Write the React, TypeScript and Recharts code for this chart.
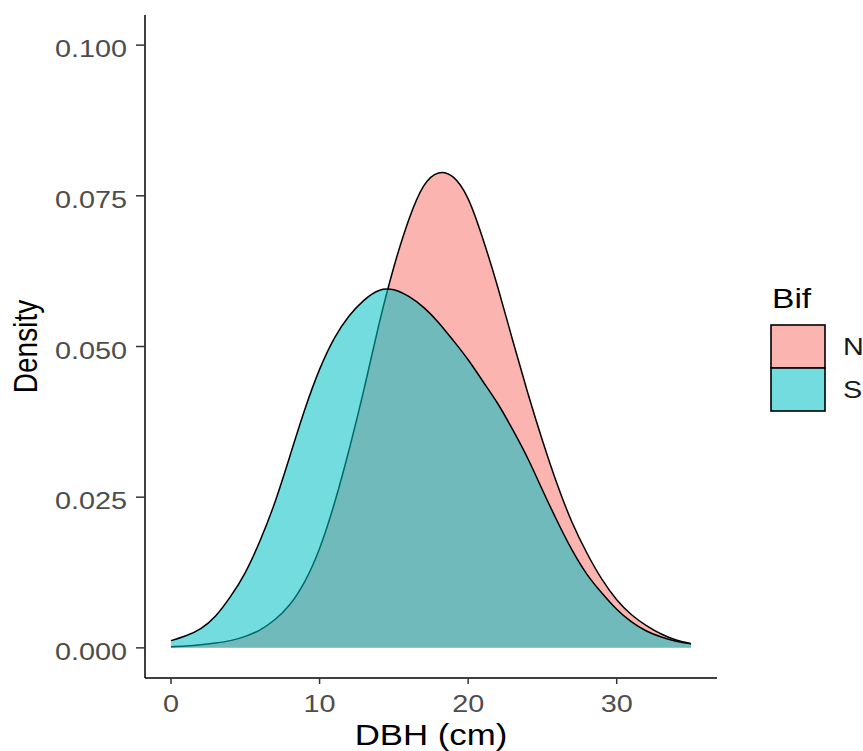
import React from "react";
import { AreaChart, Area, XAxis, YAxis, Legend } from "recharts";

// DBH (cm) grid and estimated kernel density per Bif group
const dbh = [0, 1, 2, 3, 4, 5, 6, 7, 8, 9, 10, 11, 12, 13, 14, 15, 16, 17, 18, 19, 20, 21, 22, 23, 24, 25, 26, 27, 28, 29, 30, 31, 32, 33, 34, 35];
const densityN = [0.0002, 0.0003, 0.0005, 0.0008, 0.0012, 0.0019, 0.003, 0.0047, 0.0072, 0.011, 0.0165, 0.024, 0.033, 0.043, 0.0537, 0.0632, 0.071, 0.0766, 0.0788, 0.0781, 0.0745, 0.0678, 0.0598, 0.051, 0.0424, 0.0344, 0.0271, 0.0208, 0.0157, 0.0114, 0.008, 0.0055, 0.0037, 0.0023, 0.0013, 0.0007];
const densityS = [0.0012, 0.002, 0.0032, 0.0053, 0.0085, 0.0125, 0.0178, 0.0242, 0.0318, 0.0395, 0.0462, 0.0514, 0.0551, 0.0577, 0.0593, 0.0594, 0.0583, 0.0565, 0.054, 0.051, 0.0478, 0.0442, 0.0405, 0.0362, 0.0315, 0.0262, 0.021, 0.0162, 0.0122, 0.0091, 0.0064, 0.0043, 0.0028, 0.0018, 0.0011, 0.0007];

const groups = ["N", "S"];
const groupColors = ["#F8766D", "#00BFC4"];
const xTicks = [0, 10, 20, 30];
const yTicks = [0, 0.025, 0.05, 0.075, 0.1];

const data = dbh.map((x, i) => ({ x, N: densityN[i], S: densityS[i] }));

const FONT = "'Liberation Sans', Arial, sans-serif";
const STRETCH = 1.2;
const ALPHA = 0.55;

const mix = (hex: string, a: number) => {
  const n = parseInt(hex.slice(1), 16);
  const c = [(n >> 16) & 255, (n >> 8) & 255, n & 255].map((v) => Math.round(v * a + 255 * (1 - a)));
  return `rgb(${c.join(",")})`;
};

const YTick = (props: any) => {
  const { x, y, payload } = props;
  return (
    <text transform={`translate(${x},${y}) scale(${STRETCH},1)`} dy={12} textAnchor="end" fontSize={24} fontFamily={FONT} fill="#4D4D4D">
      {Number(payload.value).toFixed(3)}
    </text>
  );
};

const XTick = (props: any) => {
  const { x, y, payload } = props;
  return (
    <text transform={`translate(${x},${y}) scale(${STRETCH},1)`} dy={24} textAnchor="middle" fontSize={24} fontFamily={FONT} fill="#4D4D4D">
      {payload.value}
    </text>
  );
};

const XTitle = (props: any) => {
  const { viewBox } = props;
  const cx = viewBox.x + viewBox.width / 2;
  return (
    <text transform={`translate(${cx},${viewBox.y + 67}) scale(${STRETCH},1)`} textAnchor="middle" fontSize={29} fontFamily={FONT} fill="#000">
      DBH (cm)
    </text>
  );
};

const YTitle = (props: any) => {
  const { viewBox } = props;
  const cy = viewBox.y + viewBox.height / 2;
  return (
    <text transform={`translate(${viewBox.x + 37},${cy}) scale(${STRETCH},1) rotate(-90)`} textAnchor="middle" fontSize={28} fontFamily={FONT} fill="#000">
      Density
    </text>
  );
};

const LegendBox = () => (
  <svg width={103} height={140} style={{ display: "block" }}>
    <text transform={`translate(12,28) scale(${STRETCH},1)`} fontSize={28} fontFamily={FONT} fill="#000">
      Bif
    </text>
    {groups.map((g, i) => (
      <g key={g}>
        <rect x={11} y={45 + i * 43} width={54} height={43} fill={mix(groupColors[i], ALPHA)} stroke="#000" strokeWidth={1.6} />
        <text transform={`translate(83,${75 + i * 43}) scale(${STRETCH},1)`} fontSize={24} fontFamily={FONT} fill="#1A1A1A">
          {g}
        </text>
      </g>
    ))}
  </svg>
);

export default function App() {
  return (
    <div style={{ position: "absolute", left: 0, top: 0, background: "#fff" }}>
      <AreaChart width={863} height={751} data={data} margin={{ top: 15, right: 146, bottom: 0, left: 0 }}>
        <XAxis
          dataKey="x"
          type="number"
          domain={[-1.75, 36.75]}
          ticks={xTicks}
          height={73}
          tickSize={6}
          tickMargin={4}
          tick={<XTick />}
          stroke="#000"
          strokeWidth={1.5}
          tickLine={{ stroke: "#333", strokeWidth: 1.5 }}
          label={<XTitle />}
        />
        <YAxis
          type="number"
          domain={[-0.005, 0.105]}
          ticks={yTicks}
          width={145}
          tickSize={9}
          tickMargin={9}
          tick={<YTick />}
          stroke="#000"
          strokeWidth={1.5}
          tickLine={{ stroke: "#333", strokeWidth: 1.5 }}
          allowDataOverflow
          label={<YTitle />}
        />
        <Legend
          layout="vertical"
          align="center"
          verticalAlign="middle"
          content={<LegendBox />}
          wrapperStyle={{ position: "absolute", left: 760, top: 280, width: 103, height: 140 }}
        />
        {groups.map((g, i) => (
          <Area
            key={g}
            dataKey={g}
            type="natural"
            baseValue={0}
            fill={groupColors[i]}
            fillOpacity={ALPHA}
            stroke="#000"
            strokeWidth={1.5}
            isAnimationActive={false}
            dot={false}
            activeDot={false}
          />
        ))}
      </AreaChart>
    </div>
  );
}
